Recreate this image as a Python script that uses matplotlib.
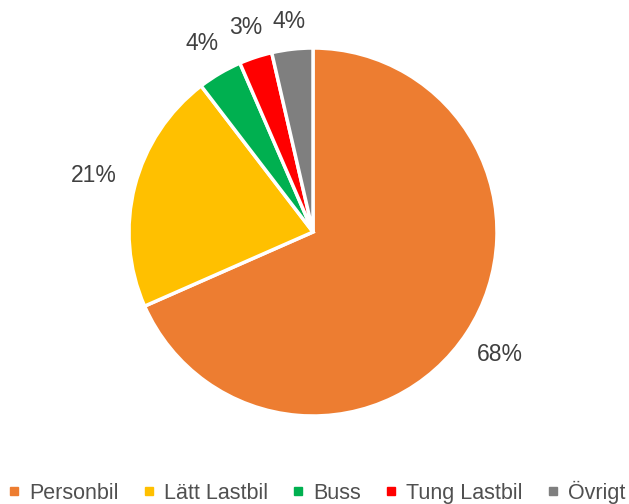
import numpy as np
import matplotlib.pyplot as plt
from matplotlib.lines import Line2D

plt.rcParams['font.family'] = ['Liberation Sans', 'DejaVu Sans']

# Fordonstyper och andel (%)
categories = ['Personbil', 'Lätt Lastbil', 'Buss', 'Tung Lastbil', 'Övrigt']
shares = [68.4, 21.2, 3.9, 2.9, 3.6]
colors = ['#ED7D31', '#FFC000', '#00B050', '#FF0000', '#7F7F7F']
text_color = '#404040'

W, H = 629, 504
fig = plt.figure(figsize=(W / 100, H / 100), dpi=100)

# pie centre and radius in pixels
cx, cy, r = 313, 232, 184
ax = fig.add_axes([(cx - r) / W, (H - cy - r) / H, 2 * r / W, 2 * r / H])
wedges, texts, autotexts = ax.pie(
    shares, colors=colors, startangle=90, counterclock=False,
    autopct='%.0f%%', pctdistance=1.19,
    wedgeprops=dict(edgecolor='white', linewidth=2.5),
    textprops=dict(color=text_color, fontsize=16.5),
)
# labels sit a bit further out at the sides than above/below the pie
for w, t in zip(wedges, autotexts):
    theta = np.deg2rad((w.theta1 + w.theta2) / 2)
    d = 1.14 + 0.09 * abs(np.cos(theta))
    t.set_position((d * np.cos(theta), d * np.sin(theta)))
ax.set_xlim(-1, 1)
ax.set_ylim(-1, 1)
ax.set_aspect('auto')

handles = [Line2D([], [], marker='s', linestyle='none', markersize=5.5,
                  markerfacecolor=c, markeredgecolor=c) for c in colors]
fig.legend(handles, categories, loc='center', bbox_to_anchor=(317 / W, 1 - 492 / H),
           ncol=5, frameon=False, fontsize=15.5, labelcolor='#505050',
           handlelength=0.5, handletextpad=0.45, columnspacing=1.15,
           borderpad=0, borderaxespad=0)

fig.savefig('out.png', dpi=100)
